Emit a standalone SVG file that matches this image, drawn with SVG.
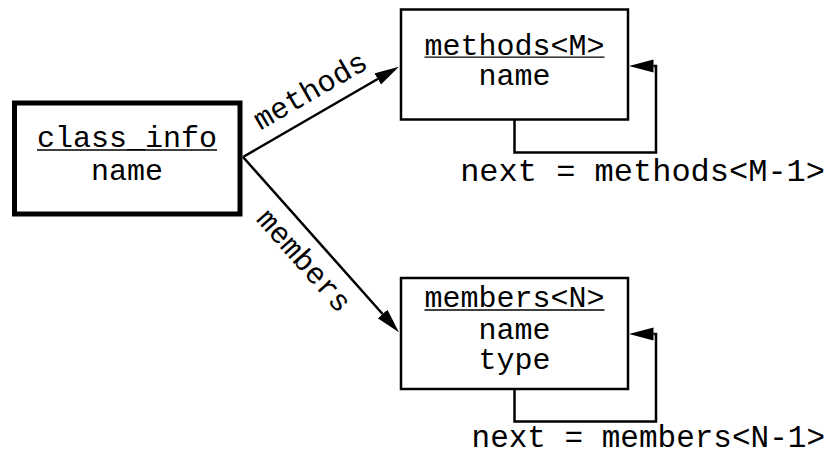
<svg xmlns="http://www.w3.org/2000/svg" width="835" height="456" viewBox="0 0 835 456">
  <style>
    text { font-family: "Liberation Mono", "DejaVu Sans Mono", monospace; fill: #000; }
    .node { font-size: 30px; text-anchor: middle; }
    .lbl { font-size: 30px; }
    .next { font-size: 32px; text-anchor: end; }
    .box { fill: #fff; stroke: #000; stroke-width: 2.5; }
    .ul { stroke: #000; stroke-width: 1.3; }
    .edge { fill: none; stroke: #000; stroke-width: 2.5; }
  </style>
  <defs>
    <marker id="arrow" markerUnits="userSpaceOnUse" markerWidth="26" markerHeight="14" refX="0" refY="6.5" orient="auto">
      <path d="M0,0 L24.5,6.5 L0,13 Z" fill="#000"/>
    </marker>
  </defs>

  <rect width="835" height="456" fill="#fff"/>

  <!-- connectors -->
  <g id="connectors">
    <path class="edge" d="M243,157 L377.7,79" marker-end="url(#arrow)"/>
    <path class="edge" d="M243,157 L382.6,314" marker-end="url(#arrow)"/>
    <path class="edge" d="M514.5,120 V152.5 H656 V66 H653.5" marker-end="url(#arrow)"/>
    <path class="edge" d="M514.5,389 V421.5 H656 V334 H653.5" marker-end="url(#arrow)"/>
    <text class="lbl" text-anchor="middle" transform="translate(315,99) rotate(-30)">methods</text>
    <text class="lbl" text-anchor="middle" transform="translate(297,267) rotate(48.5)">members</text>
    <text class="next" x="825" y="181">next = methods&lt;M-1&gt;</text>
    <text class="next" x="825" y="446.5" style="font-size:31px">next = members&lt;N-1&gt;</text>
  </g>

  <!-- class_info -->
  <g id="class_info">
    <rect class="box" x="14.5" y="103" width="225.5" height="111" style="stroke-width:5"/>
    <text class="node" x="127" y="146.5">class_info</text>
    <line class="ul" x1="37" y1="150" x2="217" y2="150"/>
    <text class="node" x="127" y="179.5">name</text>
  </g>

  <!-- methods<M> -->
  <g id="methods">
    <rect class="box" x="401" y="9.5" width="227" height="110"/>
    <text class="node" x="514.5" y="54.5">methods&lt;M&gt;</text>
    <line class="ul" x1="424.5" y1="57.2" x2="604.5" y2="57.2"/>
    <text class="node" x="514.5" y="85">name</text>
  </g>

  <!-- members<N> -->
  <g id="members">
    <rect class="box" x="401" y="278" width="227" height="111"/>
    <text class="node" x="514.5" y="306.7">members&lt;N&gt;</text>
    <line class="ul" x1="424.5" y1="310" x2="604.5" y2="310"/>
    <text class="node" x="514.5" y="339">name</text>
    <text class="node" x="514.5" y="369">type</text>
  </g>
</svg>
